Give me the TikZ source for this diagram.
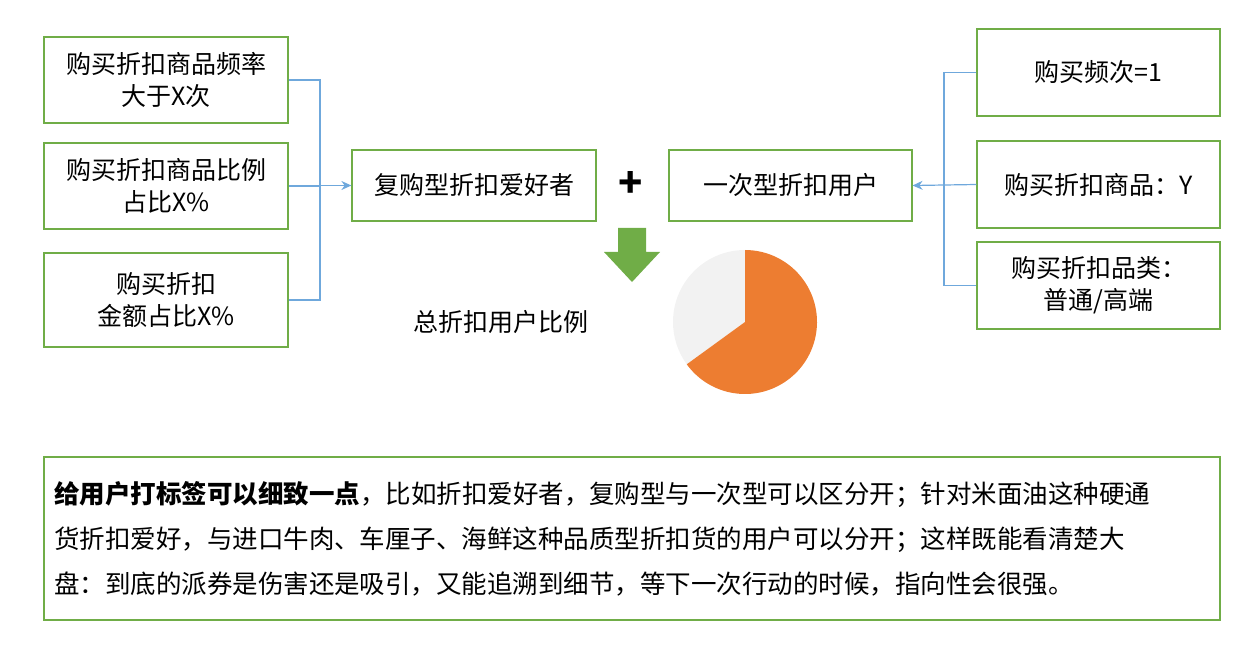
\documentclass[tikz,border=0pt]{standalone}
\usepackage{fontspec}
\setmainfont{Noto Sans CJK SC}
\usetikzlibrary{arrows.meta}
\definecolor{gb}{HTML}{70AD47}
\definecolor{ln}{HTML}{6FA8DC}
\definecolor{org}{HTML}{ED7D31}
\definecolor{gr}{HTML}{F2F2F2}
\begin{document}
\begin{tikzpicture}[x=1pt,y=-1pt,
  box/.style={draw=gb,line width=1.2pt,align=center,inner sep=0pt,font=\fontsize{25}{32}\selectfont},
  conn/.style={draw=ln,line width=1.2pt},
  arr/.style={conn,-{Stealth[length=10pt,width=9pt]}}]
\useasboundingbox (0,0) rectangle (1237,647);
\node[box,minimum width=244,minimum height=86] (l1) at (166,80) {购买折扣商品频率\\大于X次};
\node[box,minimum width=244,minimum height=86] (l2) at (166,186) {购买折扣商品比例\\占比X\%};
\node[box,minimum width=244,minimum height=94] (l3) at (166,300) {购买折扣\\金额占比X\%};
\node[box,minimum width=244,minimum height=71] (c1) at (474,185.5) {复购型折扣爱好者};
\node[font=\fontsize{40}{40}\selectfont\bfseries] (plus) at (631,185) {+};
\node[box,minimum width=243,minimum height=71] (c2) at (790.5,185.5) {一次型折扣用户};
\node[box,minimum width=243,minimum height=87] (r1) at (1098.5,72.5) {购买频次=1};
\node[box,minimum width=243,minimum height=87] (r2) at (1098.5,184.5) {购买折扣商品：Y};
\node[box,minimum width=243,minimum height=87] (r3) at (1098.5,285.5) {购买折扣品类：\\普通/高端};
\coordinate (lj) at (320,185.5);
\draw[conn] (l1.east) -- (320,80) -- (320,300) -- (l3.east);
\draw[conn] (l2.east) -- (320,186);
\draw[arr] (lj) -- (c1.west);
\coordinate (rj) at (944,184.5);
\draw[conn] (r1.west) -- (944,72.5) -- (944,285.5) -- (r3.west);
\draw[arr] (r2.west) -- (c2.east);
\fill[gb] (618,228) -- (646,228) -- (646,252) -- (660,252) -- (632,282) -- (604,252) -- (618,252) -- cycle;
\node[font=\fontsize{25}{32}\selectfont] (lab) at (501,322) {总折扣用户比例};
\fill[gr] (745,322) -- ++(90:-72) arc[start angle=-90,end angle=-216,radius=72] -- cycle;
\fill[org] (745,322) -- ++(-216:72) arc[start angle=-216,end angle=-450,radius=72] -- cycle;
\node[box,minimum width=1176,minimum height=163,align=left,text width=1156,font=\fontsize{25.5}{45}\selectfont] (note) at (632,538.5)
{\textbf{给用户打标签可以细致一点}，比如折扣爱好者，复购型与一次型可以区分开；针对米面油这种硬通\\货折扣爱好，与进口牛肉、车厘子、海鲜这种品质型折扣货的用户可以分开；这样既能看清楚大\\盘：到底的派券是伤害还是吸引，又能追溯到细节，等下一次行动的时候，指向性会很强。};
\end{tikzpicture}
\end{document}
